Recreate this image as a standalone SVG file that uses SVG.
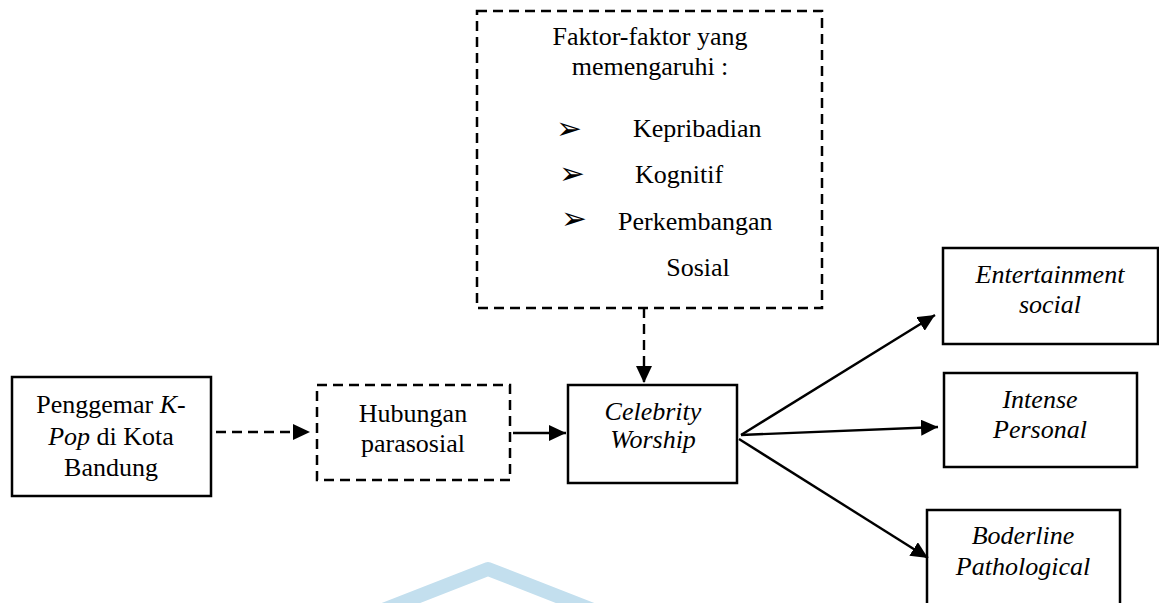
<svg xmlns="http://www.w3.org/2000/svg" width="1159" height="603" viewBox="0 0 1159 603">
<defs>
<marker id="ah" markerUnits="userSpaceOnUse" markerWidth="19" markerHeight="16" refX="17" refY="8" orient="auto">
<path d="M0,0 L17,8 L0,16 Z" fill="#000"/>
</marker>
<style>
.box{fill:#fff;stroke:#000;stroke-width:2.5}
.dbox{fill:#fff;stroke:#000;stroke-width:2.5;stroke-dasharray:10 6}
.t{font-family:"Liberation Serif","Times New Roman",serif;font-size:26px;fill:#000}
.c{text-anchor:middle}
.i{font-style:italic}
.b{font-family:"DejaVu Sans",sans-serif;font-size:31px;fill:#000}
.ln{stroke:#000;stroke-width:2.4;fill:none}
.dl{stroke:#000;stroke-width:2.4;fill:none;stroke-dasharray:10 6}
</style>
</defs>
<rect width="1159" height="603" fill="#fff"/>
<polyline points="360,619 488,569 616,619" fill="none" stroke="#c3dfee" stroke-width="14" stroke-linejoin="round"/>

<g id="faktor">
<rect class="dbox" x="477" y="11" width="345" height="297"/>
<text class="t c" x="650" y="45">Faktor-faktor yang</text>
<text class="t c" x="650" y="75">memengaruhi :</text>
<text class="b" x="556" y="139">➢</text>
<text class="t" x="633" y="137">Kepribadian</text>
<text class="b" x="559" y="184">➢</text>
<text class="t" x="635" y="183">Kognitif</text>
<text class="b" x="561" y="229">➢</text>
<text class="t" x="618" y="230">Perkembangan</text>
<text class="t c" x="698" y="276">Sosial</text>
</g>

<g id="penggemar">
<rect class="box" x="12" y="377" width="199" height="119"/>
<text class="t c" x="111" y="413">Penggemar <tspan class="i">K</tspan>-</text>
<text class="t c" x="111" y="445"><tspan class="i">Pop</tspan> di Kota</text>
<text class="t c" x="111" y="476">Bandung</text>
</g>

<g id="hubungan">
<rect class="dbox" x="317" y="385" width="193" height="95"/>
<text class="t c" x="413" y="422">Hubungan</text>
<text class="t c" x="413" y="452">parasosial</text>
</g>

<g id="celebrity">
<rect class="box" x="568" y="385" width="169" height="98"/>
<text class="t c i" x="653" y="420">Celebrity</text>
<text class="t c i" x="653" y="448">Worship</text>
</g>

<g id="entertainment">
<rect class="box" x="943" y="248" width="215" height="96"/>
<text class="t c i" x="1050" y="283">Entertainment</text>
<text class="t c i" x="1050" y="313">social</text>
</g>

<g id="intense">
<rect class="box" x="944" y="373" width="193" height="94"/>
<text class="t c i" x="1040" y="408">Intense</text>
<text class="t c i" x="1040" y="438">Personal</text>
</g>

<g id="boderline">
<rect class="box" x="927" y="510" width="193" height="110"/>
<text class="t c i" x="1023" y="544">Boderline</text>
<text class="t c i" x="1023" y="575">Pathological</text>
</g>

<g id="connectors">
<line class="dl" x1="216" y1="432" x2="310" y2="432" marker-end="url(#ah)"/>
<line class="ln" x1="513" y1="433" x2="566" y2="433" marker-end="url(#ah)"/>
<line class="dl" x1="644" y1="308" x2="644" y2="383" marker-end="url(#ah)"/>
<line class="ln" x1="741" y1="435" x2="935" y2="315" marker-end="url(#ah)"/>
<line class="ln" x1="741" y1="435" x2="938" y2="427" marker-end="url(#ah)"/>
<line class="ln" x1="739" y1="439" x2="928" y2="558" marker-end="url(#ah)"/>
</g>
</svg>
